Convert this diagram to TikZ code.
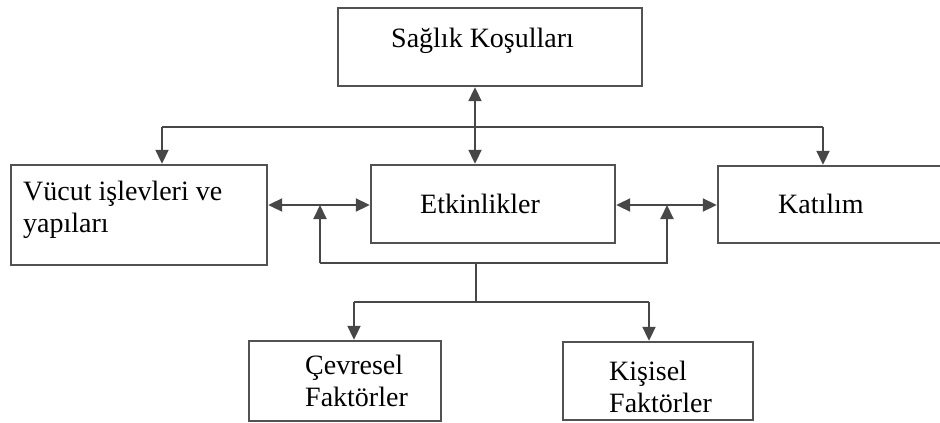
\documentclass[tikz,border=0pt]{standalone}
\usepackage{fontspec}
\setmainfont{Liberation Serif}
\usetikzlibrary{arrows.meta}
\begin{document}
\begin{tikzpicture}[x=1pt,y=-1pt,
  box/.style={draw=black!68, line width=2.4pt, inner sep=0pt, fill=white},
  lbl/.style={font=\fontsize{28}{32}\selectfont, inner sep=0pt, anchor=base west, align=left, text=black},
  conn/.style={draw=black!72, line width=2pt},
  tip/.style={-{Triangle[width=13pt,length=14pt]}},
  dbl/.style={{Triangle[width=13pt,length=14pt]}-{Triangle[width=13pt,length=14pt]}},
]
\useasboundingbox (0,0) rectangle (940,423);
% boxes
\node[box, minimum width=304pt, minimum height=78pt] (top) at (490,47) {};
\node[box, minimum width=256pt, minimum height=100pt] (left) at (139,215) {};
\node[box, minimum width=244pt, minimum height=78pt] (etk) at (493,204) {};
\node[box, minimum width=226pt, minimum height=77pt] (kat) at (831,204.5) {};
\node[box, minimum width=192pt, minimum height=80pt] (cev) at (345,381) {};
\node[box, minimum width=190pt, minimum height=78pt] (kis) at (658,381) {};
% labels (multi-line: anchor is baseline of last line)
\node[lbl] (ttop) at (391,47) {Sağlık Koşulları};
\node[lbl] (tleft) at (23,232) {Vücut işlevleri ve\\yapıları};
\node[lbl] (tetk) at (420,213) {Etkinlikler};
\node[lbl] (tkat) at (778,213) {Katılım};
\node[lbl] (tcev) at (305,406) {Çevresel\\Faktörler};
\node[lbl] (tkis) at (609,412) {Kişisel\\Faktörler};
% helper coordinates
\coordinate (a1) at (475,0);
\coordinate (rowy) at (0,205);
\coordinate (hl) at (162,127);
\coordinate (hr) at (823,127);
\coordinate (ll) at (320,263);
\coordinate (lr) at (667,263);
\coordinate (lm) at (476,263);
\coordinate (bm) at (476,302);
\coordinate (bl) at (354,302);
\coordinate (br) at (649,302);
% connectors
\draw[conn,dbl] (top.south -| a1) -- (etk.north -| a1);
\draw[conn] (hl) -- (hr);
\draw[conn,tip] (hl) -- (left.north -| hl);
\draw[conn,tip] (hr) -- (kat.north -| hr);
\draw[conn,dbl] (left.east |- rowy) -- (etk.west |- rowy);
\draw[conn,dbl] (etk.east |- rowy) -- (kat.west |- rowy);
\draw[conn,tip] (ll) -- (ll |- rowy);
\draw[conn,tip] (ll) -- (lr) -- (lr |- rowy);
\draw[conn] (lm) -- (bm);
\draw[conn] (bl) -- (br);
\draw[conn,tip] (bl) -- (cev.north -| bl);
\draw[conn,tip] (br) -- (kis.north -| br);
\end{tikzpicture}
\end{document}
